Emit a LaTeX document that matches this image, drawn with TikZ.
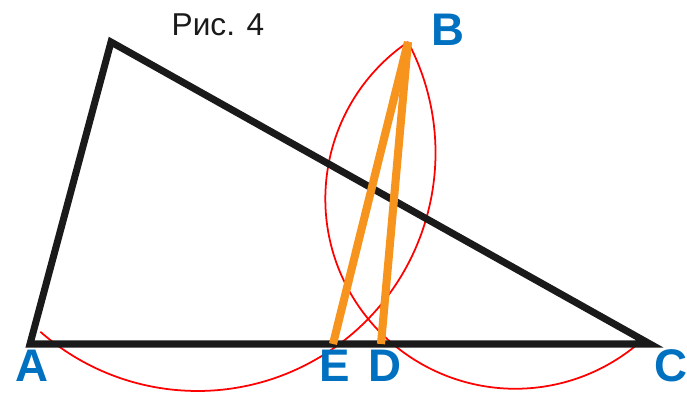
\documentclass[tikz,border=0pt]{standalone}
\usepackage{fontspec}
\setmainfont{Liberation Sans}
\usetikzlibrary{positioning}
\definecolor{LabelBlue}{RGB}{0,112,192}
\definecolor{SideBlack}{RGB}{26,26,26}
\definecolor{CevOrange}{RGB}{247,148,30}
\definecolor{ArcRed}{RGB}{255,0,0}
\tikzset{
  side/.style={draw=SideBlack,line width=4pt,line join=miter},
  cevian/.style={draw=CevOrange,line width=4.6pt,line cap=butt},
  redarc/.style={draw=ArcRed,line width=1pt},
  vlabel/.style={text=LabelBlue,font=\fontsize{26}{28}\selectfont\bfseries,inner sep=0pt},
  caption/.style={text=SideBlack,font=\fontsize{18}{20}\selectfont,inner sep=0pt}
}

\begin{document}
\begin{tikzpicture}[x=0.02cm,y=-0.02cm]
  \useasboundingbox (0,0) rectangle (687,396);

  \coordinate (A) at (30,344);
  \coordinate (top) at (111,42);
  \coordinate (C) at (650,344);
  \coordinate (B) at (408,42);
  \coordinate (E) at (333,344);
  \coordinate (D) at (381,344);

  % arcs
  \draw[redarc] (B) arc[start angle=-27.8,end angle=131.3,radius=238];
  \draw[redarc] (B) arc[start angle=235.6,end angle=50.6,radius=190];

  % triangle
  \draw[side] (A) -- (top) -- (C) -- cycle;

  % segments from B
  \draw[cevian] (B) -- (E);
  \draw[cevian] (B) -- (D);

  \node[vlabel] (lblA) at (32,366) {A};
  \node[vlabel] (lblB) at (448,30) {B};
  \node[vlabel] (lblC) at (671,366) {C};
  \node[vlabel] (lblE) at (335,366) {E};
  \node[vlabel] (lblD) at (385,366) {D};
  \node[caption] (fig) at (218,25) {Рис. 4};
\end{tikzpicture}
\end{document}
